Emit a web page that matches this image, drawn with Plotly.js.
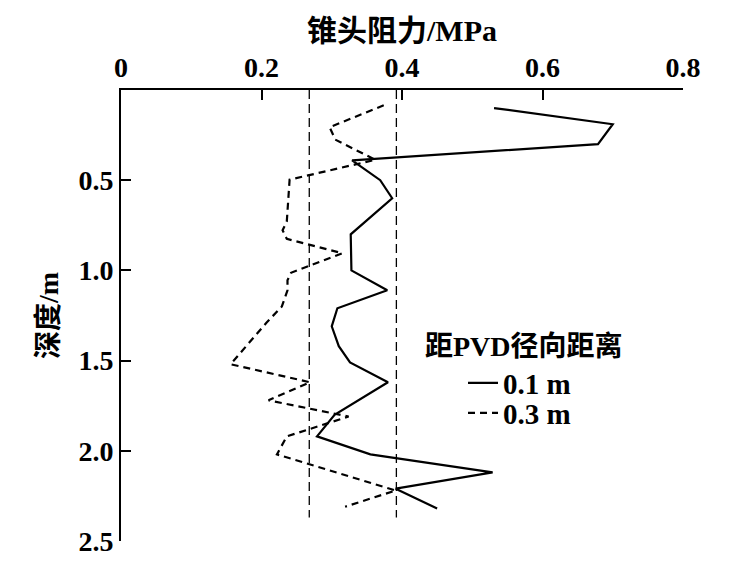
<!DOCTYPE html>
<html>
<head>
<meta charset="utf-8">
<script src="https://cdn.plot.ly/plotly-3.0.1.min.js"></script>
<style>html,body{margin:0;padding:0;background:#fff;}#chart{width:730px;height:566px;}</style>
</head>
<body>
<div id="chart"></div>
<script>
// Solid series: 0.1 m from PVD
const depth01 = [0.10,0.19,0.30,0.39,0.50,0.60,0.80,1.00,1.11,1.21,1.31,1.42,1.51,1.62,1.80,1.92,2.02,2.12,2.21,2.32];
const resist01 = [0.531,0.700,0.679,0.329,0.369,0.386,0.327,0.328,0.379,0.308,0.300,0.310,0.326,0.380,0.304,0.279,0.355,0.529,0.391,0.450];
// Dashed series: 0.3 m from PVD
const depth03 = [0.085,0.206,0.275,0.387,0.497,0.73,0.777,0.825,0.905,1.013,1.055,1.11,1.20,1.29,1.52,1.62,1.72,1.81,1.92,2.02,2.22,2.31];
const resist03 = [0.374,0.297,0.305,0.362,0.240,0.236,0.230,0.236,0.315,0.242,0.237,0.237,0.229,0.207,0.156,0.269,0.210,0.324,0.236,0.222,0.391,0.319];
// Reference vertical lines
const refX = [0.268, 0.392];
const refDepth = [0, 2.37];
// Ticks
const xTickVals = [0,0.2,0.4,0.6,0.8];
const xTickText = ['0','0.2','0.4','0.6','0.8'];
const yTickVals = [0.5,1.0,1.5,2.0,2.5];
const yTickText = ['0.5','1.0','1.5','2.0','2.5'];
const names = ['0.1 m','0.3 m'];
const legendTitle = '距PVD径向距离';

const serif = 'Liberation Serif, Noto Sans CJK SC, serif';
const traces = [];
refX.forEach(v => traces.push({
  x: [v, v], y: refDepth, mode: 'lines', showlegend: false, hoverinfo: 'skip',
  line: {color: '#000', width: 1.3, dash: '9px,5px'}
}));
traces.push({x: resist01, y: depth01, mode: 'lines', name: names[0], legend: 'legend',
  line: {color: '#000', width: 2.2}});
traces.push({x: resist03, y: depth03, mode: 'lines', name: names[1], legend: 'legend2',
  line: {color: '#000', width: 2.2, dash: '7px,5px'}});

const legendBase = {
  x: (463 - 121) / 562, xanchor: 'left', yanchor: 'middle',
  bgcolor: 'rgba(0,0,0,0)', borderwidth: 0,
  font: {family: serif, size: 29, weight: 'bold'}
};

const layout = {
  width: 730, height: 566,
  margin: {l: 121, r: 47, t: 90, b: 25},
  paper_bgcolor: '#fff', plot_bgcolor: '#fff',
  font: {family: serif, color: '#000', size: 24},
  xaxis: {
    side: 'top', range: [0, 0.8], tickvals: xTickVals, ticktext: xTickText,
    ticks: 'inside', ticklen: 10, tickwidth: 2, tickcolor: '#000',
    showline: true, linewidth: 2, linecolor: '#000', showgrid: false, zeroline: false,
    tickfont: {family: serif, size: 28, weight: 'bold'},
    title: {text: '锥头阻力/MPa', font: {family: serif, size: 30, weight: 'bold'}, standoff: 1}
  },
  yaxis: {
    range: [2.5, 0], tickvals: yTickVals, ticktext: yTickText,
    ticks: 'inside', ticklen: 10, tickwidth: 2, tickcolor: '#000',
    showline: true, linewidth: 2, linecolor: '#000', showgrid: false, zeroline: false,
    tickfont: {family: serif, size: 28, weight: 'bold'},
    title: {text: '深度/m', font: {family: serif, size: 28, weight: 'bold'}, standoff: 12}
  },
  legend: Object.assign({}, legendBase, {y: 1 - (383 - 90) / 451}),
  legend2: Object.assign({}, legendBase, {y: 1 - (413 - 90) / 451}),
  annotations: [{
    text: legendTitle, xref: 'paper', yref: 'paper',
    x: (423 - 121) / 562, y: 1 - (346 - 90) / 451, xanchor: 'left', yanchor: 'middle',
    showarrow: false, font: {family: serif, size: 28, weight: 'bold'}
  }]
};
Plotly.newPlot('chart', traces, layout, {staticPlot: true, displayModeBar: false});
</script>
</body>
</html>
